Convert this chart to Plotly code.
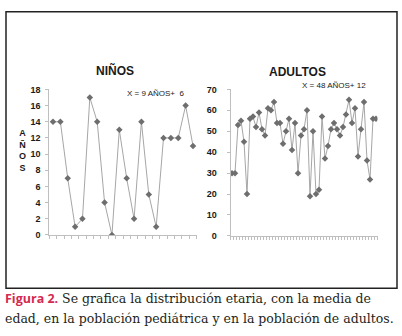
import plotly.graph_objects as go

W, H = 402, 336

ninos_vals = [14, 14, 7, 1, 2, 17, 14, 4, 0, 13, 7, 2, 14, 5, 1, 12, 12, 12, 16, 11]
adultos_vals = [30, 30, 53, 55, 45, 20, 56, 57, 52, 59, 51, 48, 61, 60, 64, 54, 54, 44, 50, 56,
                41, 54, 30, 48, 51, 60, 19, 50, 20, 22, 57, 37, 43, 51, 54, 51, 48, 52, 58, 65,
                54, 61, 38, 51, 64, 36, 27, 56, 56]
ninos_x = list(range(1, len(ninos_vals) + 1))
adultos_x = list(range(1, len(adultos_vals) + 1))
ninos_yticks = [0, 2, 4, 6, 8, 10, 12, 14, 16, 18]
adultos_yticks = [0, 10, 20, 30, 40, 50, 60, 70]

def px(x):
    return x / W

def py(y):
    return 1 - y / H

LINE = "#a6a6a6"
MARK = "#6e6e6e"
AX = "#bfbfbf"
TXT = "#1a1a1a"
FONT = "Liberation Sans"

fig = go.Figure()
fig.add_trace(go.Scatter(x=ninos_x, y=ninos_vals, mode="lines+markers", xaxis="x", yaxis="y",
                         line=dict(color=LINE, width=1),
                         marker=dict(symbol="diamond", size=5, color=MARK), showlegend=False))
fig.add_trace(go.Scatter(x=adultos_x, y=adultos_vals, mode="lines+markers", xaxis="x2", yaxis="y2",
                         line=dict(color=LINE, width=1),
                         marker=dict(symbol="diamond", size=5, color=MARK), showlegend=False))

common_x = dict(showgrid=False, zeroline=False, showline=True, linecolor=AX, linewidth=1,
                ticks="outside", ticklen=3, tickcolor=AX, tickmode="linear", tick0=0.5, dtick=1,
                showticklabels=False)
common_y = dict(showgrid=False, zeroline=False, showline=True, linecolor=AX, linewidth=1,
                ticks="outside", ticklen=3, tickcolor=AX,
                tickfont=dict(family=FONT, size=9, color=TXT, weight="bold"))

fig.update_layout(
    width=W, height=H, margin=dict(l=0, r=0, t=0, b=0),
    paper_bgcolor="white", plot_bgcolor="white",
    xaxis=dict(domain=[px(49.3), px(196.7)], range=[0.5, len(ninos_vals) + 0.5], anchor="y", **common_x),
    yaxis=dict(domain=[py(237), py(87)], range=[0, 18], anchor="x", tickvals=ninos_yticks,
               ticklabelstandoff=3, **common_y),
    xaxis2=dict(domain=[px(230.5), px(377.5)], range=[0.5, len(adultos_vals) + 0.5], anchor="y2", **common_x),
    yaxis2=dict(domain=[py(238), py(87)], range=[0, 70], anchor="x2", tickvals=adultos_yticks,
                ticklabelstandoff=8, **common_y),
)

ann = []
ann.append(dict(x=px(115), y=py(68), xref="paper", yref="paper", text="<b>NIÑOS</b>", showarrow=False,
                font=dict(family=FONT, size=12, color=TXT), xanchor="center", yanchor="middle"))
ann.append(dict(x=px(297), y=py(69), xref="paper", yref="paper", text="<b>ADULTOS</b>", showarrow=False,
                font=dict(family=FONT, size=12, color=TXT), xanchor="center", yanchor="middle"))
ann.append(dict(x=px(125), y=py(91), xref="paper", yref="paper", text="X = 9 AÑOS+  6", showarrow=False,
                font=dict(family=FONT, size=8, color=TXT), xanchor="left", yanchor="middle"))
ann.append(dict(x=px(300), y=py(83), xref="paper", yref="paper", text="X = 48 AÑOS+ 12", showarrow=False,
                font=dict(family=FONT, size=8, color=TXT), xanchor="left", yanchor="middle"))
ann.append(dict(x=px(22.5), y=py(150), xref="paper", yref="paper", text="<b>A<br>Ñ<br>O<br>S</b>",
                showarrow=False, font=dict(family=FONT, size=9, color=TXT), xanchor="center", yanchor="middle"))
ann.append(dict(x=px(3), y=py(303), xref="paper", yref="paper",
                text="<span style='font-family:Open Sans;color:#d42a52'><b>Figura 2.</b></span> Se grafica la distribución etaria, con la media de",
                showarrow=False, font=dict(family="DejaVu Serif", size=12.5, color="#231f20"),
                xanchor="left", yanchor="middle"))
ann.append(dict(x=px(3), y=py(323), xref="paper", yref="paper",
                text="edad, en la población pediátrica y en la población de adultos.",
                showarrow=False, font=dict(family="DejaVu Serif", size=12.5, color="#231f20"),
                xanchor="left", yanchor="middle"))
fig.update_layout(annotations=ann)

fig.add_shape(type="rect", xref="paper", yref="paper", x0=px(6), x1=px(397), y0=py(292), y1=py(7),
              line=dict(color="#222222", width=1.5), fillcolor="rgba(0,0,0,0)")

fig.write_html("out.html")
